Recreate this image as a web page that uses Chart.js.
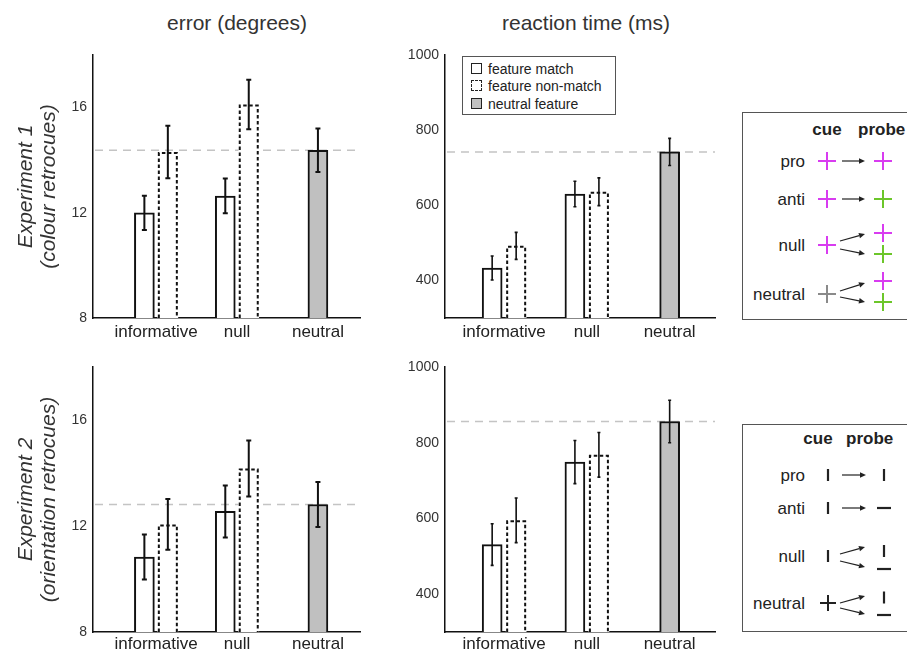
<!DOCTYPE html>
<html>
<head>
<meta charset="utf-8">
<script src="https://cdn.jsdelivr.net/npm/chart.js@4.4.0/dist/chart.umd.min.js"></script>
<style>
  html, body { margin: 0; padding: 0; background: #fff; }
  body { width: 907px; height: 652px; overflow: hidden; position: relative;
         font-family: 'Liberation Sans', Arial, sans-serif; }
  canvas, .abs { position: absolute; }
  .coltitle { top: 11px; font-size: 21px; line-height: 24px; color: #333;
              transform: translateX(-50%); white-space: nowrap; }
  #legend { left: 462px; top: 56px; width: 152px; height: 57px; border: 1px solid #555; background: #fff; }
  #legend .sw { position: absolute; left: 8px; width: 9px; height: 9px; border: 1.5px solid #222; }
  #legend .tx { position: absolute; left: 25px; font-size: 14px; line-height: 16px; color: #222; white-space: nowrap; }
</style>
</head>
<body>
<div class="abs coltitle" style="left:237px">error (degrees)</div>
<div class="abs coltitle" style="left:586px">reaction time (ms)</div>

<canvas id="e1err" width="365" height="308" style="left:0;top:40px"></canvas>
<canvas id="e1rt" width="365" height="308" style="left:365px;top:40px"></canvas>
<canvas id="e2err" width="365" height="310" style="left:0;top:352px"></canvas>
<canvas id="e2rt" width="365" height="310" style="left:365px;top:352px"></canvas>

<div id="legend" class="abs">
  <div class="sw" style="top:6px;background:#fff"></div><div class="tx" style="top:4px">feature match</div>
  <div class="sw" style="top:23px;background:#fff;border-style:dashed"></div><div class="tx" style="top:21px">feature non-match</div>
  <div class="sw" style="top:41px;background:#c0c0c0"></div><div class="tx" style="top:39px">neutral feature</div>
</div>

<svg id="box1" class="abs" style="left:742px;top:112px" width="170" height="209"></svg>
<svg id="box2" class="abs" style="left:742px;top:424px" width="170" height="209"></svg>

<script>
const groups = ['informative', 'null', 'neutral']

// Experiment 1 (colour retrocues)
const e1ErrMatch = [12.0, 12.64]
const e1ErrMatchSem = [0.65, 0.66]
const e1ErrNon = [14.31, 16.12]
const e1ErrNonSem = [1.0, 0.94]
const e1ErrNeutral = [14.38]
const e1ErrNeutralSem = [0.83]

const e1RtMatch = [433, 630]
const e1RtMatchSem = [32, 34]
const e1RtNon = [492, 636]
const e1RtNonSem = [36, 37]
const e1RtNeutral = [742]
const e1RtNeutralSem = [36]

// Experiment 2 (orientation retrocues)
const e2ErrMatch = [10.83, 12.55]
const e2ErrMatchSem = [0.85, 0.98]
const e2ErrNon = [12.06, 14.17]
const e2ErrNonSem = [0.96, 1.06]
const e2ErrNeutral = [12.81]
const e2ErrNeutralSem = [0.85]

const e2RtMatch = [531, 749]
const e2RtMatchSem = [55, 57]
const e2RtNon = [595, 768]
const e2RtNonSem = [59, 59]
const e2RtNeutral = [856]
const e2RtNeutralSem = [56]

const errTicks = [8, 12, 16]
const rtTicks = [400, 600, 800, 1000]

const FONT = "'Liberation Sans', Arial, sans-serif"

// error bars, dashed outline for non-match bars, dashed neutral reference line
const errorBars = {
    id: 'errorBars',
    beforeDatasetsDraw(chart, args, opts) {
        const {ctx, chartArea, scales: {y}} = chart
        const py = y.getPixelForValue(opts.ref)
        ctx.save()
        ctx.strokeStyle = '#c4c4c4'
        ctx.lineWidth = 1.5
        ctx.setLineDash([8, 6])
        ctx.beginPath()
        ctx.moveTo(chartArea.left + 2, py)
        ctx.lineTo(chartArea.right, py)
        ctx.stroke()
        ctx.restore()
    },
    afterDatasetsDraw(chart, args, opts) {
        const {ctx, chartArea, scales: {y}} = chart
        chart.data.datasets.forEach((ds, i) => {
            const meta = chart.getDatasetMeta(i)
            meta.data.forEach((bar, j) => {
                const p = bar.getProps(['x', 'y', 'base', 'width'], true)
                ctx.save()
                if (ds.dashed) {
                    const l = p.x - p.width / 2 + 1, r = p.x + p.width / 2 - 1, t = p.y + 1
                    const b = Math.min(p.base, chartArea.bottom)
                    ctx.strokeStyle = '#111'
                    ctx.lineWidth = 2
                    ctx.setLineDash([3.5, 2.5])
                    ctx.beginPath()
                    ctx.moveTo(l, b)
                    ctx.lineTo(l, t)
                    ctx.lineTo(r, t)
                    ctx.lineTo(r, b)
                    ctx.stroke()
                    ctx.setLineDash([])
                }
                const v = ds.data[j].y, e = ds.sem[j]
                const top = y.getPixelForValue(v + e), bot = y.getPixelForValue(v - e)
                ctx.strokeStyle = '#111'
                ctx.lineWidth = opts.lineW
                ctx.beginPath()
                ctx.moveTo(p.x, top); ctx.lineTo(p.x, bot)
                ctx.moveTo(p.x - opts.capW / 2, top); ctx.lineTo(p.x + opts.capW / 2, top)
                ctx.moveTo(p.x - opts.capW / 2, bot); ctx.lineTo(p.x + opts.capW / 2, bot)
                ctx.stroke()
                ctx.restore()
            })
        })
    }
}

function makeChart(id, c) {
    const off = 0.145
    const datasets = [
        {
            label: 'feature match',
            data: c.match.map((v, i) => ({x: i + 1 - off, y: v})),
            sem: c.matchSem,
            backgroundColor: '#fff', borderColor: '#111', borderWidth: 2,
        },
        {
            label: 'feature non-match',
            data: c.non.map((v, i) => ({x: i + 1 + off, y: v})),
            sem: c.nonSem, dashed: true,
            backgroundColor: '#fff', borderWidth: 0,
        },
        {
            label: 'neutral feature',
            data: c.neutral.map(v => ({x: groups.indexOf('neutral') + 1, y: v})),
            sem: c.neutralSem,
            backgroundColor: '#c0c0c0', borderColor: '#111', borderWidth: 2,
        },
    ]
    return new Chart(document.getElementById(id), {
        type: 'bar',
        data: {datasets},
        options: {
            responsive: false,
            animation: false,
            events: [],
            layout: {padding: {top: 15, right: c.padRight, left: 0, bottom: 0}},
            datasets: {bar: {grouped: false, barThickness: 20, maxBarThickness: 20}},
            plugins: {
                legend: {display: false},
                tooltip: {enabled: false},
                errorBars: {ref: c.neutral[0], capW: c.capW, lineW: c.lineW},
            },
            scales: {
                x: {
                    type: 'linear', min: c.xMin, max: c.xMax, offset: false,
                    grid: {display: false, drawTicks: false, offset: false},
                    border: {color: '#111', width: 1.5},
                    afterBuildTicks: s => { s.ticks = groups.map((g, i) => ({value: i + 1})) },
                    afterFit: s => { s.height = 30 },
                    ticks: {
                        autoSkip: false, maxRotation: 0, minRotation: 0, padding: c.xPad,
                        color: '#222', font: {size: 17, family: FONT},
                        callback: v => groups[Math.round(v) - 1],
                    },
                },
                y: {
                    min: c.yMin, max: c.yMax,
                    grid: {display: false, drawTicks: false},
                    border: {color: '#111', width: 1.5},
                    afterBuildTicks: s => { s.ticks = c.yTicks.map(v => ({value: v})) },
                    afterFit: s => { s.width = c.yWidth },
                    ticks: {padding: 6, color: '#333', font: {size: c.tickSize, family: FONT},
                            callback: v => String(v)},
                    title: c.yTitle ? {
                        display: true, text: c.yTitle, color: '#333',
                        font: {size: 21, style: 'italic', family: FONT, lineHeight: 1.1},
                        padding: {top: 15, bottom: 0},
                    } : {display: false},
                },
            },
        },
        plugins: [errorBars],
    })
}

makeChart('e1err', {
    match: e1ErrMatch, matchSem: e1ErrMatchSem, non: e1ErrNon, nonSem: e1ErrNonSem,
    neutral: e1ErrNeutral, neutralSem: e1ErrNeutralSem,
    yMin: 8, yMax: 18, yTicks: errTicks, yTitle: ['Experiment 1', '(colour retrocues)'],
    xMin: 0.22, xMax: 3.52, yWidth: 93, padRight: 5, xPad: 4, tickSize: 14, capW: 5, lineW: 2,
})
makeChart('e1rt', {
    match: e1RtMatch, matchSem: e1RtMatchSem, non: e1RtNon, nonSem: e1RtNonSem,
    neutral: e1RtNeutral, neutralSem: e1RtNeutralSem,
    yMin: 300, yMax: 1000, yTicks: rtTicks, yTitle: null,
    xMin: 0.285, xMax: 3.548, yWidth: 80, padRight: 15, xPad: 4, tickSize: 14, capW: 3, lineW: 1.6,
})
makeChart('e2err', {
    match: e2ErrMatch, matchSem: e2ErrMatchSem, non: e2ErrNon, nonSem: e2ErrNonSem,
    neutral: e2ErrNeutral, neutralSem: e2ErrNeutralSem,
    yMin: 8, yMax: 18, yTicks: errTicks, yTitle: ['Experiment 2', '(orientation retrocues)'],
    xMin: 0.22, xMax: 3.52, yWidth: 93, padRight: 5, xPad: 2, tickSize: 14, capW: 5, lineW: 2,
})
makeChart('e2rt', {
    match: e2RtMatch, matchSem: e2RtMatchSem, non: e2RtNon, nonSem: e2RtNonSem,
    neutral: e2RtNeutral, neutralSem: e2RtNeutralSem,
    yMin: 300, yMax: 1000, yTicks: rtTicks, yTitle: null,
    xMin: 0.285, xMax: 3.548, yWidth: 80, padRight: 15, xPad: 2, tickSize: 14, capW: 3, lineW: 1.6,
})

// cue / probe diagrams
const MAG = '#d83cf0', GRN = '#6cc62a', GRY = '#8a8a8a', INK = '#222'
const plus = (x, y, c, s = 9) => `<path d="M${x - s} ${y}H${x + s}M${x} ${y - s}V${y + s}" stroke="${c}" stroke-width="2"/>`
const vbar = (x, y) => `<path d="M${x} ${y - 6}V${y + 6}" stroke="${INK}" stroke-width="2.2"/>`
const hbar = (x, y) => `<path d="M${x - 7} ${y}H${x + 7}" stroke="${INK}" stroke-width="2.2"/>`
function arrow(x1, y1, x2, y2) {
    const a = Math.atan2(y2 - y1, x2 - x1), L = 6, W = 2.8
    const bx = x2 - L * Math.cos(a), by = y2 - L * Math.sin(a)
    const px = -Math.sin(a) * W, py = Math.cos(a) * W
    return `<path d="M${x1} ${y1}L${bx} ${by}" stroke="${INK}" stroke-width="1.2"/>` +
        `<path d="M${x2} ${y2}L${bx + px} ${by + py}L${bx - px} ${by - py}Z" fill="${INK}"/>`
}
const text = (x, y, t, anchor, bold) =>
    `<text x="${x}" y="${y}" text-anchor="${anchor}" dominant-baseline="central" font-size="17" ` +
    `font-family="Liberation Sans, Arial, sans-serif" fill="${INK}"${bold ? ' font-weight="bold"' : ''}>${t}</text>`
const frame = '<rect x="0.5" y="0.5" width="200" height="207" fill="#fff" stroke="#555" stroke-width="1"/>'

document.getElementById('box1').innerHTML = frame +
    text(85, 17.5, 'cue', 'middle', true) + text(116, 17.5, 'probe', 'start', true) +
    text(63, 49, 'pro', 'end') + plus(85, 49, MAG) + arrow(100, 49, 123, 49) + plus(141, 49, MAG) +
    text(63, 87, 'anti', 'end') + plus(85, 87, MAG) + arrow(100, 87, 123, 87) + plus(141, 87, GRN) +
    text(63, 133, 'null', 'end') + plus(85, 133, MAG) + arrow(98, 129, 123, 122) + arrow(98, 137, 123, 142) +
    plus(141, 121, MAG) + plus(141, 142, GRN) +
    text(63, 182, 'neutral', 'end') + plus(85, 182, GRY) + arrow(98, 179, 123, 171) + arrow(98, 185, 123, 190) +
    plus(141, 169, MAG) + plus(141, 190, GRN)

document.getElementById('box2').innerHTML = frame +
    text(76, 14, 'cue', 'middle', true) + text(104, 14, 'probe', 'start', true) +
    text(63, 51, 'pro', 'end') + vbar(86, 51) + arrow(100, 51, 124, 51) + vbar(142, 51) +
    text(63, 84, 'anti', 'end') + vbar(86, 84) + arrow(100, 84, 124, 84) + hbar(142, 84) +
    text(63, 132, 'null', 'end') + vbar(86, 132) + arrow(98, 130, 123, 123) + arrow(98, 137, 123, 143) +
    vbar(142, 127) + hbar(142, 145) +
    text(63, 179, 'neutral', 'end') + plus(86, 179, INK, 8) + arrow(98, 179, 123, 172) + arrow(98, 184, 123, 190) +
    vbar(142, 173.5) + hbar(142, 191)
</script>
</body>
</html>
